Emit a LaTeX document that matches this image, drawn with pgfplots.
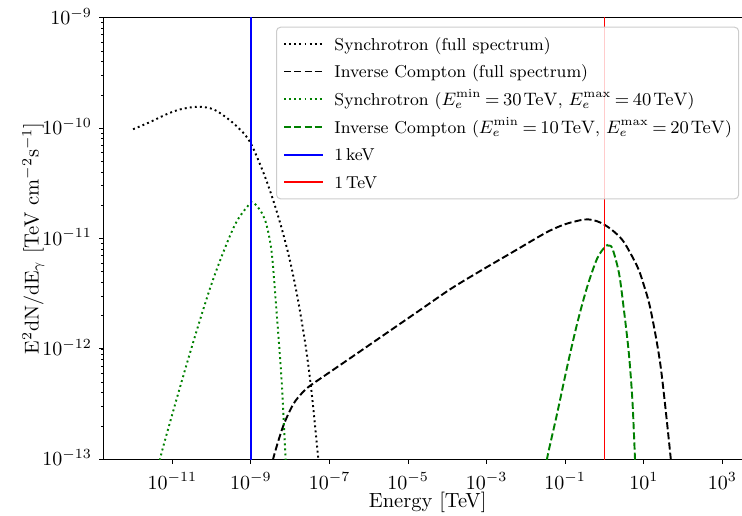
\documentclass[border=0pt]{standalone}
\usepackage{pgfplots}
\pgfplotsset{compat=1.18}
\definecolor{mplgreen}{rgb}{0,0.5,0}
\newcommand{\legmath}[2]{$\thickmuskip=3.5mu E_e^{\mathrm{min}}=#1\mskip2mu\mathrm{TeV}$, $\thickmuskip=3.5mu E_e^{\mathrm{max}}=#2\mskip2mu\mathrm{TeV}$}
\begin{document}
\begin{tikzpicture}
\begin{axis}[
  name=ax,
  scale only axis, width=324.1pt, height=220.8pt,
  xmode=log, ymode=log,
  xmin=1.778e-13, xmax=5623.4,
  ymin=1e-13, ymax=1e-9,
  xtick={1e-11,1e-9,1e-7,1e-5,1e-3,1e-1,1e1,1e3},
  ytick={1e-13,1e-12,1e-11,1e-10,1e-9},
  tick pos=left, tick align=outside,
  major tick length=2.24pt, minor tick length=1.28pt,
  every tick/.style={black, line width=0.51pt},
  every minor tick/.style={black, line width=0.38pt},
  axis line style={line width=0.51pt},
  font=\fontsize{10.25}{12.3}\selectfont,
  xticklabel style={anchor=base, inner sep=0pt, yshift=-12.6pt},
  yticklabel style={anchor=base east, inner sep=0pt, xshift=-3.45pt, yshift=-3.3pt},
  xlabel={Energy [TeV]},
  ylabel={$\mathrm{E^2dN/dE_\gamma}$ [TeV cm$^{-2}$s$^{-1}$]},
  every axis x label/.style={at={(axis description cs:0.5,-0.110)}, anchor=base},
  every axis y label/.style={at={(axis description cs:-0.1003,0.5)}, rotate=90, anchor=base},
  legend style={at={(axis description cs:0.266,0.9796)}, anchor=north west,
    draw=black!20, fill=white, fill opacity=0.8, draw opacity=1, text opacity=1,
    rounded corners=2pt, line width=0.5pt,
    font=\fontsize{8.6}{10.4}\selectfont,
    inner xsep=3.35pt, inner ysep=2.9pt, row sep=3.04pt, column sep=5.15pt,
    cells={anchor=west},
    nodes={inner sep=0pt, text height=8.5pt, text depth=2.3pt}},
  legend image code/.code={\draw[#1, line width=0.96pt, rounded corners=0pt] (0pt,0pt) -- (19.5pt,0pt);},
  dotstyle/.style={line width=0.96pt, dash pattern=on 0.96pt off 1.58pt},
  dashstyle/.style={line width=0.96pt, dash pattern=on 3.55pt off 1.54pt},
]
% Synchrotron (full spectrum)
\addplot[black, dotstyle, smooth] coordinates {
(1e-12,9.77e-11) (2.512e-12,1.122e-10) (7.079e-12,1.334e-10) (1.585e-11,1.479e-10)
(4.467e-11,1.563e-10) (1.122e-10,1.479e-10) (2.818e-10,1.189e-10) (6.310e-10,9.12e-11)
(1e-9,7.244e-11) (1.585e-9,5.012e-11) (2.512e-9,3.311e-11) (3.981e-9,2.042e-11)
(6.310e-9,1.175e-11) (1e-8,6.166e-12) (1.585e-8,2.754e-12) (2.512e-8,1.023e-12)
(3.548e-8,3.890e-13) (5.129e-8,1.047e-13) (5.495e-8,7.94e-14)};
\addlegendentry{Synchrotron (full spectrum)}
% Inverse Compton (full spectrum)
\addplot[black, dashstyle, smooth] coordinates {
(3.388e-9,7.94e-14) (3.715e-9,1.023e-13) (6.607e-9,1.995e-13) (1.202e-8,3.162e-13)
(1.995e-8,3.981e-13) (3.162e-8,4.624e-13) (1.259e-7,6.486e-13) (6.310e-7,9.616e-13)
(3.162e-6,1.429e-12) (1.995e-5,2.244e-12) (1.259e-4,3.524e-12) (7.943e-4,5.236e-12)
(5.012e-3,7.674e-12) (1.585e-2,9.772e-12) (3.981e-2,1.175e-11) (0.1,1.349e-11)
(0.2512,1.469e-11) (0.3981,1.489e-11) (0.6310,1.439e-11) (1.0,1.334e-11)
(1.778,1.148e-11) (3.162,9.226e-12) (6.871,5.559e-12) (10.0,3.802e-12) (15.0,2.249e-12)
(26.92,6.902e-13) (48.53,1.023e-13) (50.12,7.94e-14)};
\addlegendentry{Inverse Compton (full spectrum)}
% Synchrotron (30-40 TeV)
\addplot[mplgreen, dotstyle, smooth] coordinates {
(4.677e-12,7.94e-14) (5.012e-12,1.054e-13) (1.259e-11,3.428e-13) (3.388e-11,1.148e-12)
(8.913e-11,3.459e-12) (1.950e-10,7.413e-12) (4.266e-10,1.413e-11) (9.333e-10,2.065e-11)
(1.122e-9,2.113e-11) (1.380e-9,1.995e-11) (1.905e-9,1.698e-11) (2.512e-9,1.318e-11)
(3.388e-9,7.413e-12) (4.467e-9,2.239e-12) (6.026e-9,5.248e-13) (7.586e-9,1.054e-13)
(7.943e-9,7.94e-14)};
\addlegendentry{Synchrotron (\legmath{30}{40})}
% Inverse Compton (10-20 TeV)
\addplot[mplgreen, dashstyle, smooth] coordinates {
(3.311e-2,7.94e-14) (3.467e-2,1.023e-13) (6.252e-2,2.612e-13) (0.1122,6.902e-13)
(0.2023,1.706e-12) (0.3631,3.656e-12) (0.6546,6.622e-12) (1.072,8.551e-12)
(1.259,8.610e-12) (1.585,8.147e-12) (2.344,4.842e-12) (3.126,2.249e-12)
(4.169,9.120e-13) (5.129,3.443e-13) (5.970,1.023e-13) (6.166,7.94e-14)};
\addlegendentry{Inverse Compton (\legmath{10}{20})}
\addplot[blue, line width=0.96pt] coordinates {(1e-9,1e-14) (1e-9,1e-8)};
\addlegendentry{1\,keV}
\addplot[red, line width=0.96pt] coordinates {(1,1e-14) (1,1e-8)};
\addlegendentry{1\,TeV}
\end{axis}
\pgfresetboundingbox
\path[use as bounding box] ([shift={(-51.8pt,-27.85pt)}]ax.south west) rectangle ([shift={(319.2pt,229.65pt)}]ax.south west);
\end{tikzpicture}
\end{document}
